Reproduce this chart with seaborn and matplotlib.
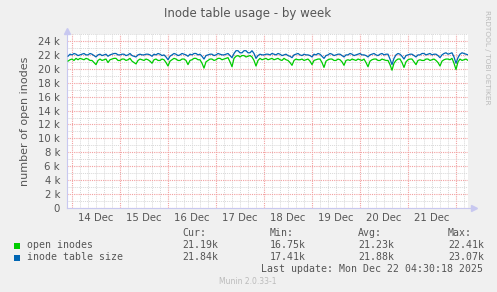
import numpy as np
import pandas as pd
import matplotlib
matplotlib.use("Agg")
import matplotlib.pyplot as plt
import matplotlib.dates as mdates
from matplotlib.ticker import MultipleLocator, FuncFormatter
from matplotlib.patches import Rectangle
import seaborn as sns

# ---------------- data (values in thousands, 1-hour steps) ----------------
start_time = "2025-12-13 22:00"
series_names = ["open inodes", "inode table size"]
open_inodes = [
    21.1, 21.3, 21.4, 21.2, 21.5, 21.3, 21.5, 21.4, 21.3, 21.5, 21.4, 21.2, 21.2, 20.9, 20.6, 21.2, 21.4, 21.2, 21.3, 21.4,
    20.9, 21.3, 21.4, 21.5, 21.5, 21.2, 21.2, 21.4, 21.4, 21.2, 21.3, 21.5, 21.1, 20.9, 20.7, 21.2, 21.4, 21.3, 21.2, 21.4,
    21.3, 21.1, 20.8, 21.3, 21.4, 21.2, 21.2, 21.4, 21.3, 20.9, 20.4, 21.1, 21.3, 21.5, 21.4, 21.2, 21.2, 21.4, 21.4, 21.2,
    20.6, 21.2, 21.3, 21.5, 21.5, 21.3, 21.3, 20.8, 20.1, 21.0, 21.2, 21.4, 21.4, 21.2, 21.3, 21.5, 21.5, 21.3, 21.4, 21.5,
    21.6, 21.0, 20.3, 21.5, 21.8, 21.9, 21.7, 21.9, 21.9, 21.7, 21.8, 21.9, 21.7, 21.2, 20.4, 21.2, 21.5, 21.3, 21.4, 21.5,
    21.3, 21.4, 21.5, 21.3, 21.4, 21.5, 21.3, 21.2, 21.5, 21.3, 21.2, 20.9, 20.5, 21.2, 21.4, 21.3, 21.3, 21.4, 21.2, 21.3,
    21.4, 21.1, 20.6, 21.2, 21.3, 21.4, 21.4, 20.9, 20.2, 21.1, 21.3, 21.4, 21.4, 21.2, 21.2, 21.4, 21.3, 21.0, 20.5, 21.2,
    21.3, 21.2, 21.4, 21.3, 21.2, 21.4, 21.3, 21.2, 21.4, 20.9, 20.3, 21.1, 21.3, 21.4, 21.4, 21.2, 21.2, 21.4, 21.3, 21.2,
    21.2, 20.6, 19.8, 20.8, 21.2, 21.4, 21.4, 20.9, 20.2, 21.0, 21.3, 21.4, 21.4, 21.0, 20.6, 21.2, 21.3, 21.2, 21.2, 21.4,
    21.4, 21.2, 21.3, 21.4, 21.2, 20.9, 20.4, 21.1, 21.3, 21.4, 21.4, 21.3, 21.5, 20.8, 19.9, 21.0, 21.4, 21.2, 21.3, 21.4, 21.2,
]
inode_table_size = [
    21.8, 22.1, 22.0, 22.2, 22.1, 21.9, 22.0, 22.1, 22.2, 22.0, 22.0, 22.2, 22.1, 21.9, 21.7, 22.0, 22.1, 21.9, 22.0, 22.1,
    21.8, 22.0, 22.1, 22.2, 22.2, 22.0, 22.0, 22.1, 22.1, 21.9, 22.0, 22.2, 21.9, 21.8, 21.7, 22.0, 22.1, 22.0, 22.0, 22.1,
    22.1, 22.0, 21.8, 22.1, 22.0, 22.2, 22.1, 21.9, 22.0, 21.7, 21.3, 21.8, 22.0, 22.2, 22.1, 21.9, 22.0, 22.2, 22.1, 22.0,
    21.8, 22.1, 22.0, 22.2, 22.2, 22.0, 22.1, 21.8, 21.4, 21.9, 22.0, 22.1, 22.1, 21.9, 22.0, 22.2, 22.1, 22.0, 22.0, 22.1,
    22.2, 21.9, 21.6, 22.2, 22.6, 22.6, 22.3, 22.3, 22.6, 22.6, 22.3, 22.3, 22.6, 22.2, 21.5, 21.9, 22.1, 22.0, 22.0, 22.1,
    22.1, 22.0, 22.2, 22.1, 22.0, 22.2, 22.1, 21.9, 22.0, 22.1, 21.9, 21.8, 21.6, 22.0, 22.1, 22.2, 22.0, 21.9, 22.1, 22.0,
    22.0, 21.9, 21.7, 22.1, 22.0, 22.2, 22.1, 21.8, 21.5, 21.9, 22.0, 22.2, 22.1, 21.9, 22.0, 22.1, 22.1, 21.9, 21.7, 22.0,
    22.0, 22.2, 22.1, 21.9, 22.0, 22.1, 22.2, 22.0, 22.0, 21.9, 21.7, 22.0, 22.1, 22.2, 22.0, 21.9, 22.1, 22.2, 22.0, 22.1,
    22.1, 21.4, 20.6, 21.5, 22.0, 22.2, 22.1, 21.8, 21.4, 21.9, 22.0, 22.1, 22.1, 21.9, 21.7, 22.0, 22.0, 22.2, 22.2, 22.0,
    22.1, 22.2, 22.0, 22.1, 22.1, 21.9, 21.6, 22.0, 22.2, 22.3, 22.1, 22.2, 22.3, 21.7, 20.8, 21.6, 22.1, 22.3, 22.2, 22.1, 22.0,
]
legend_cur = ["21.19k", "21.84k"]
legend_min = ["16.75k", "17.41k"]
legend_avg = ["21.23k", "21.88k"]
legend_max = ["22.41k", "23.07k"]
colors = {"open inodes": "#00CC00", "inode table size": "#0066B3"}

times = pd.date_range(start_time, periods=len(open_inodes), freq="1h")
df = pd.DataFrame({
    "time": list(times) * 2,
    "value": np.array(open_inodes + inode_table_size) * 1000.0,
    "series": [series_names[0]] * len(times) + [series_names[1]] * len(times),
})

# ---------------- figure ----------------
sns.set_theme(style="white")
plt.rcParams["font.family"] = ["DejaVu Sans"]

W, H = 497, 292
fig = plt.figure(figsize=(W / 100, H / 100), dpi=100, facecolor="#F0F0F0")
ax = fig.add_axes([67 / W, (H - 208) / H, (468 - 67) / W, (208 - 34) / H])
ax.set_facecolor("white")

sns.lineplot(data=df, x="time", y="value", hue="series", palette=colors,
             linewidth=0.9, legend=False, ax=ax, zorder=3)

ax.set_xlim(pd.Timestamp("2025-12-13 21:30"), pd.Timestamp("2025-12-22 06:00"))
ax.set_ylim(0, 25000)
ax.set_xlabel("")
ax.set_ylabel("number of open inodes", fontsize=8, color="#555555", labelpad=6)

# y ticks
ax.yaxis.set_major_locator(MultipleLocator(2000))
ax.yaxis.set_minor_locator(MultipleLocator(1000))
ax.yaxis.set_major_formatter(FuncFormatter(lambda v, p: "0" if v == 0 else f"{int(round(v / 1000))} k"))

# x ticks: red grid at midnight, gray every 4h, labels at noon
ax.xaxis.set_major_locator(mdates.HourLocator(byhour=[0]))
ax.xaxis.set_major_formatter(FuncFormatter(lambda v, p: ""))
ax.xaxis.set_minor_locator(mdates.HourLocator(byhour=[4, 8, 12, 16, 20]))


def minor_fmt(v, p):
    d = mdates.num2date(v)
    return d.strftime("%d Dec").lstrip("0") if d.hour == 12 else ""


ax.xaxis.set_minor_formatter(FuncFormatter(minor_fmt))

ax.grid(which="minor", color="#D8D8D8", linestyle=(0, (1, 1)), linewidth=0.7, zorder=1)
ax.grid(which="major", color="#F2A0A0", linestyle=(0, (1, 1)), linewidth=0.8, zorder=2)
ax.set_axisbelow(True)

ax.tick_params(axis="y", which="major", length=2, width=0.6, color="#AAAAAA",
               labelsize=7.3, labelcolor="#555555", pad=3)
ax.tick_params(axis="y", which="minor", length=0)
ax.tick_params(axis="x", which="major", length=2, width=0.6, color="#F2A0A0")
ax.tick_params(axis="x", which="minor", length=1.5, width=0.6, color="#CCCCCC",
               labelsize=7.3, labelcolor="#555555", pad=2)

for s in ["top", "right"]:
    ax.spines[s].set_visible(False)
for s in ["left", "bottom"]:
    ax.spines[s].set_color("#C8C8F0")
    ax.spines[s].set_linewidth(0.8)

# axis arrows
ax.plot([1.0, 1.015], [0, 0], transform=ax.transAxes, color="#C8C8F0", lw=0.8, clip_on=False)
ax.plot([1.015], [0], transform=ax.transAxes, marker=">", color="#C8C8F0", ms=4, clip_on=False)
ax.plot([0, 0], [1.0, 1.02], transform=ax.transAxes, color="#C8C8F0", lw=0.8, clip_on=False)
ax.plot([0], [1.02], transform=ax.transAxes, marker="^", color="#C8C8F0", ms=4, clip_on=False)

# title and side text
fig.text(248 / W, 1 - 14 / H, "Inode table usage - by week", ha="center", va="center",
         fontsize=8.5, color="#555555")
fig.text(487 / W, 1 - 57 / H, "RRDTOOL / TOBI OETIKER", ha="center", va="center",
         rotation=270, fontsize=5.3, color="#BBBBBB")

# legend block
mono = "DejaVu Sans Mono"
fs = 7.1
tc = "#555555"


def ty(y):
    return 1 - y / H


for xh, txt in zip([182, 270, 358, 448], ["Cur:", "Min:", "Avg:", "Max:"]):
    fig.text(xh / W, ty(233.5), txt, family=mono, fontsize=fs, color=tc, va="center")

rows_y = [245.5, 257.5]
for i, name in enumerate(series_names):
    y = rows_y[i]
    fig.patches.append(Rectangle((14 / W, ty(y + 3)), 6 / W, 6 / H, transform=fig.transFigure,
                                 facecolor=colors[name], edgecolor="none"))
    fig.text(27 / W, ty(y), name, family=mono, fontsize=fs, color=tc, va="center")
    for xh, val in zip([182, 270, 358, 448], [legend_cur[i], legend_min[i], legend_avg[i], legend_max[i]]):
        fig.text(xh / W, ty(y), val, family=mono, fontsize=fs, color=tc, va="center")

fig.text(483 / W, ty(269.5), "Last update: Mon Dec 22 04:30:18 2025", family=mono,
         fontsize=fs, color=tc, va="center", ha="right")
fig.text(248 / W, ty(281), "Munin 2.0.33-1", fontsize=5.5, color="#BBBBBB",
         va="center", ha="center")

fig.savefig("out.png", dpi=100, facecolor=fig.get_facecolor())
